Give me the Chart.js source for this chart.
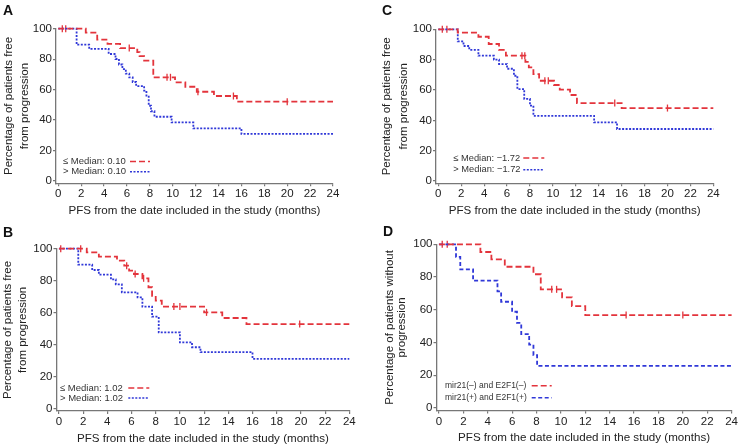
<!DOCTYPE html>
<html>
<head>
<meta charset="utf-8">
<script src="https://cdn.jsdelivr.net/npm/chart.js@4.4.0/dist/chart.umd.min.js"></script>
<style>
  body { margin: 0; background: #fff; width: 739px; height: 446px; position: relative; overflow: hidden; }
  canvas { position: absolute; }
  .tag { position: absolute; font: bold 14px/1 "Liberation Sans", Arial, sans-serif; color: #111; }
</style>
</head>
<body>
<canvas id="chartA" width="370" height="220" style="left:0;top:0"></canvas>
<canvas id="chartC" width="369" height="220" style="left:370px;top:0"></canvas>
<canvas id="chartB" width="370" height="226" style="left:0;top:220px"></canvas>
<canvas id="chartD" width="369" height="226" style="left:370px;top:220px"></canvas>
<div class="tag" style="left:3px;top:3px">A</div>
<div class="tag" style="left:382px;top:3px">C</div>
<div class="tag" style="left:3px;top:225px">B</div>
<div class="tag" style="left:383px;top:224px">D</div>
<script>
const xTicks = [0, 2, 4, 6, 8, 10, 12, 14, 16, 18, 20, 22, 24];
const yTicks = [0, 20, 40, 60, 80, 100];
const xTitle = "PFS from the date included in the study (months)";

// panel A
const aLowTimes = [0, 2.4, 3.4, 4.3, 5.4, 6.9, 7.1, 7.5, 8.3, 10.2, 11.1, 12.1, 13.6, 15.6, 24];
const aLowSurv = [100, 97.4, 92.8, 90.0, 87.3, 84.6, 82.0, 79.0, 68.1, 64.8, 61.9, 58.6, 55.8, 52.1, 52.1];
const aLowCens = [0.35, 0.65, 6.2, 9.5, 9.8, 12.2, 15.3, 20];
const aHighTimes = [0, 1.6, 2.7, 4.4, 5.0, 5.3, 5.6, 5.9, 6.2, 6.5, 6.8, 7.5, 7.7, 7.9, 8.1, 8.4, 9.9, 11.8, 16.0, 24];
const aHighSurv = [100, 89.5, 86.7, 83.4, 80.1, 76.5, 73.5, 70.5, 68, 65, 62.3, 59.3, 56, 49.4, 45.8, 42.2, 38.5, 34.6, 30.9, 30.9];
const aLegend = ["\u2264 Median: 0.10", "> Median: 0.10"];

// panel C
const cLowTimes = [0, 1.7, 3.5, 4.4, 5.3, 5.9, 7.6, 7.9, 8.3, 8.8, 10.1, 10.6, 11.5, 12.1, 16.0, 24];
const cLowSurv = [100, 97.8, 95.1, 90.3, 86.4, 82.6, 78.5, 74.9, 70.5, 66.1, 63.3, 60.2, 56.7, 51.4, 48.1, 48.1];
const cLowCens = [0.35, 0.75, 7.3, 7.55, 9.3, 9.6, 15.4, 20];
const cHighTimes = [0, 1.7, 2.2, 2.7, 3.5, 4.85, 5.3, 6.0, 6.6, 6.9, 7.5, 8.0, 8.3, 13.6, 15.6, 24];
const cHighSurv = [100, 92, 89, 86.5, 82.6, 80, 77.1, 74, 69.4, 60.6, 54.1, 49.7, 43.0, 38.7, 34.3, 34.3];
const cLegend = ["\u2264 Median: \u22121.72", "> Median: \u22121.72"];

// panel B
const bLowTimes = [0, 2.3, 3.3, 4.8, 5.4, 5.8, 6.2, 6.9, 7.4, 7.7, 8.0, 8.5, 12.0, 13.5, 15.5, 24];
const bLowSurv = [100, 97.7, 95.0, 92.5, 89.4, 86.3, 84.2, 81.5, 75.9, 70.6, 67.5, 63.8, 60.2, 56.7, 52.9, 52.9];
const bLowCens = [0.15, 1.8, 5.6, 6.3, 7.0, 9.5, 10.0, 12.2, 19.9];
const bHighTimes = [0, 1.6, 2.75, 3.3, 4.3, 4.7, 5.2, 6.5, 6.9, 7.7, 8.25, 10.0, 11.0, 11.7, 16.0, 24];
const bHighSurv = [100, 90, 86.7, 83.8, 80.8, 77.7, 72.7, 69.6, 63.8, 57.5, 47.7, 41.5, 38.4, 35.3, 31.1, 31.1];
const bLegend = ["\u2264 Median: 1.02", "> Median: 1.02"];

// panel D
const dLowTimes = [0, 3.4, 4.3, 5.4, 7.75, 8.35, 10.1, 10.9, 12.0, 24];
const dLowSurv = [100, 95.3, 90.8, 86.3, 81.7, 72.5, 67.6, 62.3, 56.8, 56.8];
const dLowCens = [0.27, 0.68, 9.25, 9.65, 15.35, 20];
const dHighTimes = [0, 1.4, 1.75, 2.8, 4.8, 5.1, 6.0, 6.4, 6.75, 7.4, 7.75, 8.05, 24];
const dHighSurv = [100, 92.3, 84.7, 77.8, 71.3, 64.9, 58.8, 52.0, 45.2, 38.7, 32.3, 25.8, 25.8];
const dLegend = ["mir21(\u2013) and E2F1(\u2013)", "mir21(+) and E2F1(+)"];

const RED = "#e3343c";
const BLUE = "#3038d8";
const AXIS = "#777";
const FONT = '"Liberation Sans", Arial, sans-serif';

function stepData(times, surv) {
  return times.map((t, i) => ({ x: t, y: surv[i] }));
}

// censor tick sits on the curve value at that time
function censorData(times, surv, cens) {
  return cens.map(function (c) {
    let s = surv[0];
    for (let i = 0; i < times.length; i++) if (times[i] <= c) s = surv[i];
    return { x: c, y: s };
  });
}

const legendPlugin = {
  id: "kmLegend",
  afterDatasetsDraw(chart, args, opts) {
    const ctx = chart.ctx;
    ctx.save();
    ctx.font = opts.size + "px " + FONT;
    ctx.textBaseline = "middle";
    opts.items.forEach(function (it, i) {
      const y = opts.y + i * opts.gap;
      ctx.fillStyle = "#333";
      ctx.fillText(it.text, opts.x, y);
      ctx.strokeStyle = it.color;
      ctx.lineWidth = 1.6;
      ctx.setLineDash(it.dash);
      ctx.beginPath();
      ctx.moveTo(opts.lineX, y);
      ctx.lineTo(opts.lineX + opts.lineLen, y);
      ctx.stroke();
    });
    ctx.restore();
  },
};

function drawPanel(p) {
  const tickFont = { family: FONT, size: 11.5 };
  new Chart(document.getElementById(p.id), {
    type: "line",
    data: {
      datasets: [
        {
          data: stepData(p.lowT, p.lowS),
          stepped: "before",
          borderColor: RED,
          borderDash: [6, 3],
          borderWidth: 1.8,
          pointRadius: 0,
          clip: false,
        },
        {
          data: stepData(p.highT, p.highS),
          stepped: "before",
          borderColor: BLUE,
          borderDash: p.highDash,
          borderWidth: 1.8,
          pointRadius: 0,
          clip: false,
        },
        {
          data: censorData(p.lowT, p.lowS, p.lowC),
          showLine: false,
          pointStyle: "line",
          pointRotation: 90,
          pointRadius: 3.5,
          pointBorderColor: RED,
          pointBorderWidth: 1.3,
          clip: false,
        },
      ],
    },
    options: {
      animation: false,
      responsive: false,
      devicePixelRatio: 1,
      events: [],
      layout: { padding: { left: 0, bottom: 0, top: p.area.top, right: p.w - p.area.right } },
      plugins: {
        legend: { display: false },
        tooltip: { enabled: false },
        kmLegend: {
          x: p.leg.x, y: p.leg.y, gap: p.leg.gap, size: p.leg.size,
          lineX: p.leg.lineX, lineLen: p.leg.lineLen,
          items: [
            { text: p.labels[0], color: RED, dash: [6, 3] },
            { text: p.labels[1], color: BLUE, dash: p.highDash },
          ],
        },
      },
      scales: {
        x: {
          type: "linear",
          min: -0.2,
          max: 24,
          afterBuildTicks: (s) => { s.ticks = xTicks.map((v) => ({ value: v })); },
          afterFit: (s) => { s.height = p.h - p.area.bottom; },
          ticks: { font: tickFont, color: "#222", padding: 1, maxRotation: 0, autoSkip: false },
          grid: { drawOnChartArea: false, tickLength: 3, color: AXIS, lineWidth: 1.2 },
          border: { color: AXIS, width: 1.3 },
          title: { display: true, text: xTitle, font: { family: FONT, size: 11.6 }, color: "#222", padding: { top: 0, bottom: p.xPad } },
        },
        y: {
          min: -1.5,
          max: 100,
          afterBuildTicks: (s) => { s.ticks = yTicks.map((v) => ({ value: v })); },
          afterFit: (s) => { s.width = p.area.left; },
          ticks: { font: tickFont, color: "#222", padding: 1 },
          grid: { drawOnChartArea: false, tickLength: 3, color: AXIS, lineWidth: 1.2 },
          border: { color: AXIS, width: 1.3 },
          title: { display: true, text: p.yTitle, font: { family: FONT, size: 11.5, lineHeight: p.yLine }, color: "#222", padding: { top: p.yPad, bottom: 0 } },
        },
      },
    },
    plugins: [legendPlugin],
  });
}

drawPanel({
  id: "chartA", w: 370, h: 220,
  area: { left: 56, top: 28.7, right: 333, bottom: 183.3 },
  lowT: aLowTimes, lowS: aLowSurv, lowC: aLowCens,
  highT: aHighTimes, highS: aHighSurv, highDash: [2, 1.5],
  labels: aLegend, yTitle: ["Percentage of patients free", "from progression"],
  xPad: 2.5, yPad: 0.5, yLine: 1.4,
  leg: { x: 63, y: 161.5, gap: 10.3, size: 9.5, lineX: 130, lineLen: 20 },
});
drawPanel({
  id: "chartC", w: 369, h: 220,
  area: { left: 66, top: 29.3, right: 343.3, bottom: 183.3 },
  lowT: cLowTimes, lowS: cLowSurv, lowC: cLowCens,
  highT: cHighTimes, highS: cHighSurv, highDash: [2, 1.5],
  labels: cLegend, yTitle: ["Percentage of patients free", "from progression"],
  xPad: 2.5, yPad: 9, yLine: 1.42,
  leg: { x: 83.3, y: 158, gap: 11.7, size: 9.3, lineX: 153.3, lineLen: 21 },
});
drawPanel({
  id: "chartB", w: 370, h: 226,
  area: { left: 56.5, top: 28.7, right: 349.3, bottom: 191.1 },
  lowT: bLowTimes, lowS: bLowSurv, lowC: bLowCens,
  highT: bHighTimes, highS: bHighSurv, highDash: [2, 1.5],
  labels: bLegend, yTitle: ["Percentage of patients free", "from progression"],
  xPad: 0, yPad: 0, yLine: 1.35,
  leg: { x: 60, y: 168, gap: 10, size: 9.5, lineX: 128.3, lineLen: 21 },
});
drawPanel({
  id: "chartD", w: 369, h: 226,
  area: { left: 66.5, top: 24.3, right: 362.7, bottom: 190.5 },
  lowT: dLowTimes, lowS: dLowSurv, lowC: dLowCens,
  highT: dHighTimes, highS: dHighSurv, highDash: [4, 2.5],
  labels: dLegend, yTitle: ["Percentage of patients without", "progression"],
  xPad: 1, yPad: 14, yLine: 1.05,
  leg: { x: 75, y: 165.7, gap: 12, size: 8.5, lineX: 161.7, lineLen: 20 },
});
</script>
</body>
</html>
